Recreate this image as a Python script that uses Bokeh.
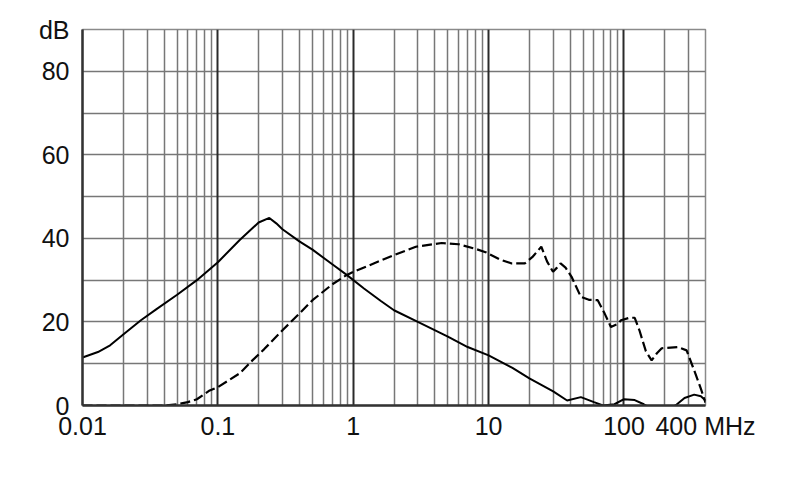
from bokeh.plotting import figure
from bokeh.models import FixedTicker, Grid
from bokeh.embed import file_html
from bokeh.resources import INLINE

# Solid curve (MHz, dB)
solid_f = [0.01, 0.013, 0.016, 0.02, 0.027, 0.035, 0.05, 0.07, 0.1, 0.145, 0.2, 0.24, 0.27, 0.3,
           0.4, 0.5, 0.7, 0.9, 1.2, 1.6, 2, 3, 5, 7, 10, 15, 20, 30, 38, 48, 60, 70, 85, 100,
           120, 140, 160, 200, 240, 280, 330, 370, 400]
solid_db = [11.5, 12.8, 14.4, 17, 20.4, 23, 26.5, 30, 34.3, 39.6, 43.8, 44.9, 43.6, 42.2,
            39.3, 37.3, 33.8, 31.2, 28, 25, 22.8, 20, 16.5, 14, 12, 9, 6.5, 3.4, 1.2, 2, 0.8, 0, 0.3, 1.5,
            1.3, 0.3, -0.8, -1, 0, 1.8, 2.6, 2.2, 1.2]

# Dashed curve (MHz, dB)
dash_f = [0.01, 0.04, 0.05, 0.06, 0.07, 0.087, 0.1, 0.12, 0.145, 0.18, 0.22, 0.3, 0.4, 0.5, 0.7,
          0.89, 1.0, 1.3, 2, 2.9, 4.5, 6, 8, 9.5, 12, 14.8, 18.5, 21, 24.5, 27, 29.9, 32, 34, 37,
          41, 48, 55, 64, 72, 80, 90, 95, 110, 120, 130, 145, 160, 175, 190, 250, 290, 330, 370, 400]
dash_db = [0, 0, 0.3, 0.8, 1.5, 3.6, 4.4, 6, 7.7, 10.8, 13.5, 18, 22, 25.2, 29,
           31.2, 32, 33.5, 36, 38, 38.9, 38.6, 37.5, 36.7, 35, 34, 34, 35.5, 38, 34.5, 32, 33, 34, 33,
           30.8, 26, 25.3, 25.2, 22, 18.8, 19.5, 20.4, 21, 21, 18, 13, 10.8, 12.5, 13.7, 14, 13.2, 8.4, 4, 0.7]

x_major = [0.01, 0.1, 1, 10, 100, 400]
x_labels = {0.01: "0.01", 0.1: "0.1", 1: "1", 10: "10", 100: "100", 400: "400 MHz"}
decades = [0.1, 1, 10, 100]
minor_x = [m * d for d in [0.01, 0.1, 1, 10] for m in range(2, 10)] + [200, 300, 400]
y_major = [0, 20, 40, 60, 80, 90]
y_labels = {0: "0", 20: "20", 40: "40", 60: "60", 80: "80", 90: "dB"}
y_grid = [10, 20, 30, 40, 50, 60, 70, 80, 90]

p = figure(x_axis_type="log", x_range=(0.01, 400), y_range=(0, 90),
           frame_width=623, frame_height=376,
           min_border_left=82, min_border_top=29, min_border_right=62, min_border_bottom=50,
           output_backend="svg", toolbar_location=None, background_fill_color="white")
p.outline_line_color = "#8a8a8a"
p.outline_line_width = 1.5

p.xgrid.visible = False
p.ygrid.visible = False
p.add_layout(Grid(dimension=0, ticker=FixedTicker(ticks=minor_x),
                  grid_line_color="#777777", grid_line_width=1.5))
p.add_layout(Grid(dimension=1, ticker=FixedTicker(ticks=y_grid),
                  grid_line_color="#777777", grid_line_width=1.5))
p.add_layout(Grid(dimension=0, ticker=FixedTicker(ticks=decades),
                  grid_line_color="#2a2a2a", grid_line_width=2))

for ax in (p.xaxis[0], p.yaxis[0]):
    ax.major_tick_line_color = None
    ax.minor_tick_line_color = None
    ax.major_tick_out = 0
    ax.major_tick_in = 0
    ax.axis_line_color = "#333333"
    ax.axis_line_width = 2.5
    ax.major_label_text_font = "Liberation Sans"
    ax.major_label_text_font_size = "25px"
    ax.major_label_text_color = "#111111"

p.xaxis.ticker = FixedTicker(ticks=x_major, minor_ticks=[])
p.xaxis.major_label_overrides = x_labels
p.xaxis.major_label_standoff = 6
p.yaxis.ticker = FixedTicker(ticks=y_major, minor_ticks=[])
p.yaxis.major_label_overrides = y_labels
p.yaxis.major_label_standoff = 13

p.line(solid_f, solid_db, line_color="black", line_width=2)
p.line(dash_f, dash_db, line_color="black", line_width=2.2, line_dash="10 4")

open("out.html", "w").write(file_html(p, INLINE))
